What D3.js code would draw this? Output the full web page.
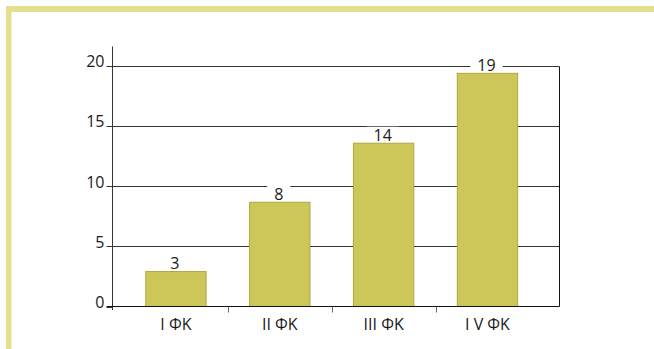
<!DOCTYPE html>
<html>
<head>
<meta charset="utf-8">
<script src="https://cdn.jsdelivr.net/npm/d3@7"></script>
<style>
  html, body { margin: 0; padding: 0; background: #fff; }
  svg { display: block; }
  text { font-family: "Open Sans", "Noto Sans", sans-serif; fill: #1a1a1a; }
</style>
</head>
<body>
<svg id="chart" width="654" height="349"></svg>
<script>
// ---- data ----
const categories = ["I ΦK", "II ΦK", "III ΦK", "I V ΦK"];
const values = [2.9, 8.65, 13.55, 19.35];
const valueLabels = ["3", "8", "14", "19"];
const yTicks = [0, 5, 10, 15, 20];

// ---- layout ----
const W = 654, H = 349;
const frameLeft = 112.5, frameRight = 559.5;
const svg = d3.select("#chart");

// decorative border
const borderColor = "#e4df91";
svg.append("rect").attr("x", 6).attr("y", 6).attr("width", W - 6).attr("height", 6).attr("fill", borderColor);
svg.append("rect").attr("x", 6).attr("y", 6).attr("width", 5.5).attr("height", H - 6).attr("fill", borderColor);

const y = d3.scaleLinear().domain([0, 20]).range([306.5, 65.5]);
const x = d3.scaleBand().domain(categories).range([124, 539.4]).paddingInner(0.419).paddingOuter(0.2095);

const lineColor = "#333";

// gridlines
svg.append("g").selectAll("line").data(yTicks.filter(d => d > 0)).join("line")
  .attr("x1", frameLeft).attr("x2", frameRight)
  .attr("y1", d => Math.round(y(d)) + 0.5).attr("y2", d => Math.round(y(d)) + 0.5)
  .attr("stroke", lineColor).attr("stroke-width", 1);

// bars
svg.append("g").selectAll("rect").data(values).join("rect")
  .attr("x", (d, i) => x(categories[i]))
  .attr("width", x.bandwidth())
  .attr("y", d => y(d))
  .attr("height", d => y(0) - y(d))
  .attr("fill", "#cdc75a")
  .attr("stroke", "#b0a63e")
  .attr("stroke-width", 1);

// value labels with white background
const lg = svg.append("g").selectAll("g").data(values).join("g")
  .attr("transform", (d, i) => `translate(${x(categories[i]) + x.bandwidth() / 2 - 1},${y(d) - 2.5})`);
lg.append("text")
  .attr("text-anchor", "middle")
  .attr("font-size", 16)
  .text((d, i) => valueLabels[i]);
lg.each(function () {
  const g = d3.select(this);
  const bb = g.select("text").node().getBBox();
  g.insert("rect", "text")
    .attr("x", bb.x - 7).attr("y", -14)
    .attr("width", bb.width + 14).attr("height", 14)
    .attr("fill", "#fff");
});

// y axis line
const yAxisX = frameLeft;
svg.append("line")
  .attr("x1", yAxisX).attr("x2", yAxisX)
  .attr("y1", 46.5).attr("y2", y(0) + 3.5)
  .attr("stroke", lineColor);

// right frame line
svg.append("line")
  .attr("x1", frameRight).attr("x2", frameRight)
  .attr("y1", Math.round(y(20)) + 0.5).attr("y2", y(0))
  .attr("stroke", "#111");

// x axis (baseline)
svg.append("line")
  .attr("x1", frameLeft - 6).attr("x2", frameRight)
  .attr("y1", y(0)).attr("y2", y(0))
  .attr("stroke", "#111");

// y ticks & labels
const yt = svg.append("g").selectAll("g").data(yTicks).join("g");
yt.append("line")
  .attr("x1", yAxisX - 6).attr("x2", yAxisX)
  .attr("y1", d => Math.round(y(d)) + 0.5).attr("y2", d => Math.round(y(d)) + 0.5)
  .attr("stroke", lineColor);
yt.append("text")
  .attr("x", 104.5)
  .attr("y", d => y(d) + 1.5)
  .attr("text-anchor", "end")
  .attr("font-size", 16)
  .text(d => d);

// category separator ticks
const step = x.step();
const sepX = categories.slice(1).map(c => x(c) - (step - x.bandwidth()) / 2);
svg.append("g").selectAll("line").data(sepX).join("line")
  .attr("x1", d => Math.round(d) + 0.5).attr("x2", d => Math.round(d) + 0.5)
  .attr("y1", y(0)).attr("y2", y(0) + 6)
  .attr("stroke", "#666");

// category labels
svg.append("g").selectAll("text").data(categories).join("text")
  .attr("x", d => x(d) + x.bandwidth() / 2)
  .attr("y", 329.5)
  .attr("text-anchor", "middle")
  .attr("font-size", 16)
  .text(d => d);
</script>
</body>
</html>
